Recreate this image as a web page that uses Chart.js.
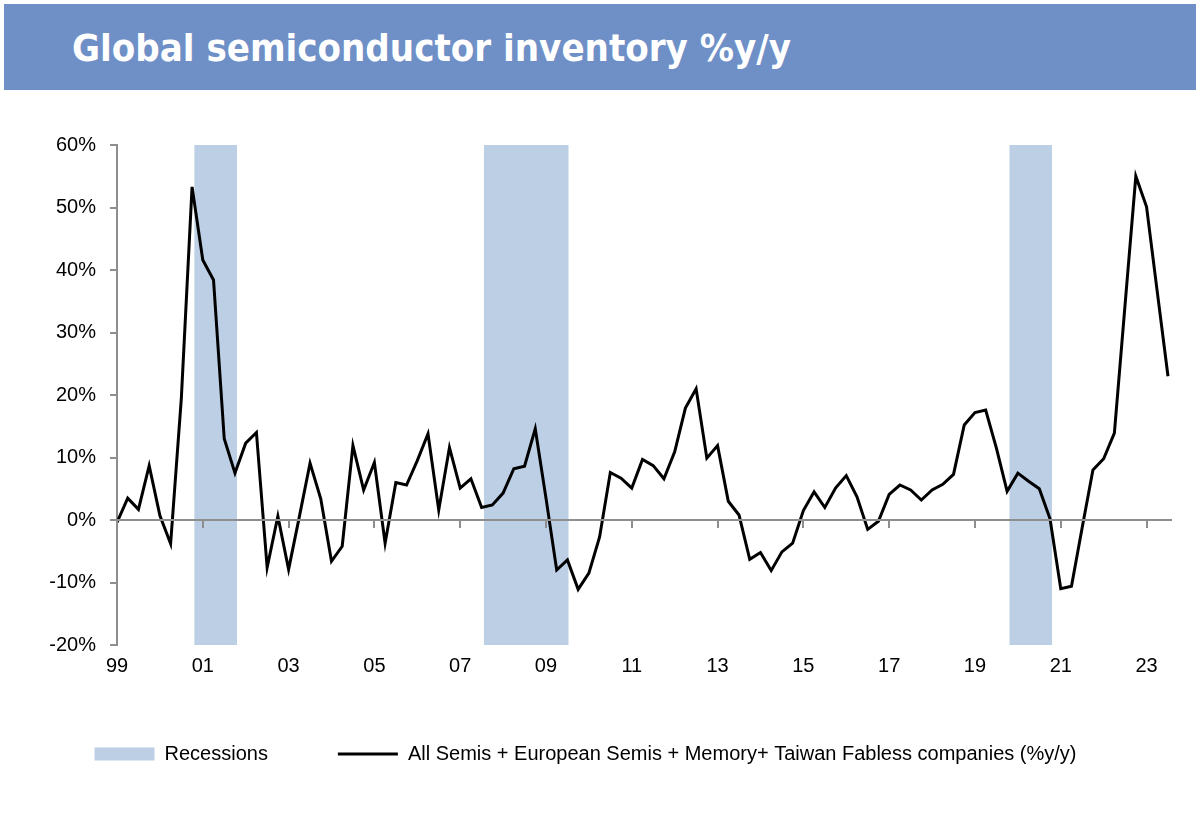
<!DOCTYPE html>
<html lang="en">
<head>
    <meta charset="UTF-8">
    <title>Global semiconductor inventory %y/y</title>
    <script src="https://cdn.jsdelivr.net/npm/chart.js@4.4.1/dist/chart.umd.min.js"></script>
    <style>
        body { margin: 0; width: 1199px; height: 814px; background: #fff; position: relative; overflow: hidden; }
        #banner {
            position: absolute; left: 4px; top: 4px; width: 1192px; height: 86px;
            background: #6f8fc7; color: #fff; box-sizing: border-box; padding-left: 68px;
            font: bold 38px "DejaVu Sans Condensed", "DejaVu Sans", sans-serif; line-height: 88px;
        }
        #myChart { position: absolute; left: 0; top: 0; }
    </style>
</head>
<body>
    <canvas id="myChart" width="1199" height="814"></canvas>
    <div id="banner">Global semiconductor inventory %y/y</div>

    <script>
        // quarterly, 1999Q1 .. 2023Q3
        const startYear = 1999;
        const inventoryYoY = [
            -0.4, 3.5, 1.7, 8.7, 0.7, -3.8, 19.5, 53.3, 41.6, 38.4,
            13.0, 7.5, 12.3, 14.0, -7.6, 0.6, -7.9, 0.5, 9.1, 3.4,
            -6.6, -4.2, 11.9, 4.8, 9.2, -3.7, 6.0, 5.6, 9.5, 13.8,
            1.6, 11.6, 5.1, 6.6, 2.0, 2.4, 4.3, 8.2, 8.6, 14.6,
            3.5, -8.0, -6.4, -11.1, -8.5, -2.7, 7.6, 6.7, 5.1, 9.7,
            8.7, 6.6, 10.9, 17.9, 21.0, 9.9, 11.9, 3.0, 0.8, -6.3,
            -5.2, -8.1, -5.1, -3.7, 1.5, 4.5, 2.0, 5.1, 7.1, 3.7,
            -1.5, -0.2, 4.1, 5.6, 4.8, 3.2, 4.8, 5.7, 7.3, 15.2,
            17.2, 17.6, 11.5, 4.6, 7.5, 6.2, 5.0, 0.2, -11.0, -10.6,
            -1.2, 8.0, 9.8, 13.9, 34.5, 55.0, 50.1, 36.5, 23.0
        ];
        const recessionStart = [2000.8, 2007.55, 2019.8];
        const recessionEnd = [2001.8, 2009.53, 2020.8];
        const tickYears = [1999, 2001, 2003, 2005, 2007, 2009, 2011, 2013, 2015, 2017, 2019, 2021, 2023];
        const tickLabels = ['99', '01', '03', '05', '07', '09', '11', '13', '15', '17', '19', '21', '23'];
        const seriesLabel = 'All Semis + European Semis + Memory+ Taiwan Fabless companies (%y/y)';
        const bandLabel = 'Recessions';

        const linePoints = inventoryYoY.map((v, i) => ({ x: startYear + i / 4, y: v }));
        const bandPoints = [];
        recessionStart.forEach((s, k) => {
            const e = recessionEnd[k];
            bandPoints.push({ x: s, y: 0 }, { x: s, y: 1 }, { x: e, y: 1 }, { x: e, y: 0 }, { x: e, y: null });
        });

        const axisGrey = '#8e8e8e';
        const font = { family: '"Liberation Sans", Arial, sans-serif', size: 20 };
        const setTicks = (scale) => { scale.ticks = tickYears.map(v => ({ value: v })); };

        const chart = new Chart('myChart', {
            type: 'line',
            data: {
                datasets: [{
                    label: bandLabel,
                    data: bandPoints,
                    yAxisID: 'yBand',
                    backgroundColor: '#bccfe4',
                    borderWidth: 0,
                    pointRadius: 0,
                    pointStyle: 'rect',
                    fill: 'start',
                    spanGaps: false,
                    order: 1
                }, {
                    label: seriesLabel,
                    data: linePoints,
                    yAxisID: 'y',
                    borderColor: '#000',
                    backgroundColor: '#000',
                    borderWidth: 3,
                    pointRadius: 0,
                    pointStyle: 'line',
                    tension: 0,
                    fill: false,
                    order: 0
                }]
            },
            options: {
                responsive: false,
                animation: false,
                layout: { padding: { top: 145, right: 28, bottom: 40, left: 0 } },
                plugins: {
                    legend: {
                        display: true,
                        position: 'bottom',
                        labels: {
                            usePointStyle: true,
                            pointStyleWidth: 60,
                            boxHeight: 13,
                            padding: 70,
                            color: '#000',
                            font: font,
                            sort: (a, b) => a.datasetIndex - b.datasetIndex
                        }
                    },
                    title: { display: false },
                    tooltip: { enabled: false }
                },
                scales: {
                    x: {
                        type: 'linear',
                        position: 'bottom',
                        min: 1999,
                        max: 2023.57,
                        afterBuildTicks: setTicks,
                        afterFit: (s) => { s.height = 29; },
                        ticks: {
                            autoSkip: false,
                            maxRotation: 0,
                            padding: 9,
                            color: '#000',
                            font: font,
                            callback: (v) => tickLabels[tickYears.indexOf(v)]
                        },
                        grid: { display: false, drawTicks: false },
                        border: { display: false }
                    },
                    xZero: {
                        type: 'linear',
                        axis: 'x',
                        position: { y: 0 },
                        min: 1999,
                        max: 2023.57,
                        afterBuildTicks: setTicks,
                        ticks: { display: false },
                        grid: { drawOnChartArea: false, drawTicks: true, tickLength: 7, color: axisGrey, lineWidth: 2, z: 1 },
                        border: { display: true, color: axisGrey, width: 2, z: 1 }
                    },
                    y: {
                        min: -20,
                        max: 60,
                        afterFit: (s) => { s.width = 117; },
                        ticks: {
                            stepSize: 10,
                            padding: 14,
                            color: '#000',
                            font: font,
                            callback: (v) => v + '%'
                        },
                        grid: { drawOnChartArea: false, tickLength: 7, color: axisGrey, lineWidth: 2 },
                        border: { color: axisGrey, width: 2 }
                    },
                    yBand: { min: 0, max: 1, display: false }
                }
            }
        });
    </script>
</body>
</html>
